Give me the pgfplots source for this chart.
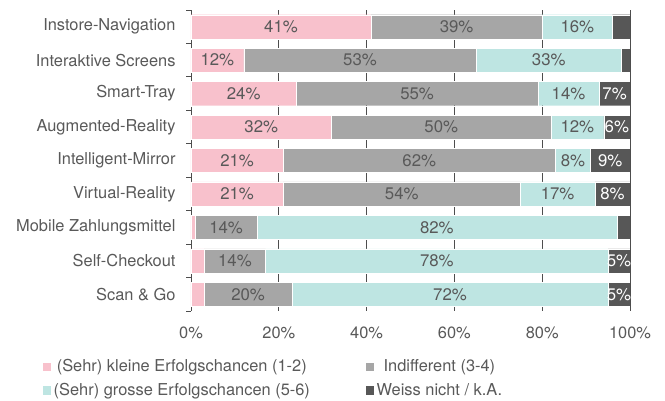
\documentclass[border=0pt]{standalone}
\usepackage{pgfplots}
\pgfplotsset{compat=1.18}
\usepackage{fontspec}
\setmainfont{TeX Gyre Heros}
\definecolor{cpink}{HTML}{F8C1CC}
\definecolor{cgray}{HTML}{A6A6A6}
\definecolor{ccyan}{HTML}{BEE5E2}
\definecolor{cdark}{HTML}{575757}
\definecolor{ctext}{HTML}{595959}
\definecolor{cgrid}{HTML}{4D4D4D}
\begin{document}
\begin{tikzpicture}
\begin{axis}[
  scale only axis, width=439pt, height=301pt,
  xbar stacked, bar width=0.72,
  xmin=0, xmax=100, ymin=-0.5, ymax=8.5, y dir=reverse,
  xtick={0,20,40,60,80,100},
  xticklabels={0\%,20\%,40\%,60\%,80\%,100\%},
  ytick={0,1,2,3,4,5,6,7,8},
  yticklabels={Instore-Navigation,Interaktive Screens,Smart-Tray,Augmented-Reality,Intelligent-Mirror,Virtual-Reality,Mobile Zahlungsmittel,Self-Checkout,Scan \& Go},
  minor ytick={-0.5,0.5,1.5,2.5,3.5,4.5,5.5,6.5,7.5,8.5},
  major tick length=0pt, minor tick length=4.5pt, tick align=outside,
  axis y line*=left, axis x line*=bottom,
  x axis line style={draw=none},
  y axis line style={cgrid, line width=0.8pt},
  minor y tick style={cgrid, line width=0.8pt},
  xmajorgrids, grid style={cgrid, line width=0.8pt},
  xticklabel style={font=\fontsize{16.4}{18}\selectfont, text=ctext, yshift=-12pt},
  yticklabel style={font=\fontsize{16.4}{18}\selectfont, text=ctext, xshift=-12pt},
  legend image code/.code={\fill[#1] (0pt,-4.75pt) rectangle (9.5pt,4.75pt);},
  legend style={at={(-0.347,-0.148)}, anchor=north west, draw=none, fill=none,
    legend columns=2, font=\fontsize{16.4}{18}\selectfont, text=ctext,
    /tikz/every even column/.append style={column sep=53pt},
    row sep=6pt},
]
\addplot[fill=cpink, draw=white, line width=0.3pt] coordinates {
 (41,0) (12,1) (24,2) (32,3) (21,4) (21,5) (1,6) (3,7) (3,8)};
\addlegendentry{(Sehr) kleine Erfolgschancen (1-2)}
\addplot[fill=cgray, draw=white, line width=0.3pt] coordinates {
 (39,0) (53,1) (55,2) (50,3) (62,4) (54,5) (14,6) (14,7) (20,8)};
\addlegendentry{Indifferent (3-4)}
\addplot[fill=ccyan, draw=white, line width=0.3pt] coordinates {
 (16,0) (33,1) (14,2) (12,3) (8,4) (17,5) (82,6) (78,7) (72,8)};
\addlegendentry{(Sehr) grosse Erfolgschancen (5-6)}
\addplot[fill=cdark, draw=white, line width=0.3pt] coordinates {
 (4,0) (2,1) (7,2) (6,3) (9,4) (8,5) (3,6) (5,7) (5,8)};
\addlegendentry{Weiss nicht / k.A.}
\end{axis}
% overlay axis with the segment labels at segment centres
\begin{axis}[
  scale only axis, width=439pt, height=301pt,
  xmin=0, xmax=100, ymin=-0.5, ymax=8.5, y dir=reverse,
  hide axis, clip=false,
  point meta=explicit symbolic, nodes near coords,
]
\addplot[sharp plot, draw=none, mark=none,
  every node near coord/.style={anchor=center, font=\fontsize{16.8}{18}\selectfont, text=ctext}]
  coordinates {
 (20.5,0)[41\%] (60.5,0)[39\%] (88,0)[16\%]
 (6,1)[12\%] (38.5,1)[53\%] (81.5,1)[33\%]
 (12,2)[24\%] (51.5,2)[55\%] (86,2)[14\%]
 (16,3)[32\%] (57,3)[50\%] (88,3)[12\%]
 (10.5,4)[21\%] (52,4)[62\%] (87,4)[8\%]
 (10.5,5)[21\%] (48,5)[54\%] (83.5,5)[17\%]
 (8,6)[14\%] (56,6)[82\%]
 (10,7)[14\%] (56,7)[78\%]
 (13,8)[20\%] (59,8)[72\%]};
\addplot[sharp plot, draw=none, mark=none,
  every node near coord/.style={anchor=center, font=\fontsize{16.8}{18}\selectfont, text=white}]
  coordinates {
 (96.5,2)[7\%] (97,3)[6\%] (95.5,4)[9\%] (96,5)[8\%] (97.5,7)[5\%] (97.5,8)[5\%]};
\end{axis}
\pgfresetboundingbox
\path (-191pt,-90pt) rectangle (474pt,311pt);
\end{tikzpicture}
\end{document}
